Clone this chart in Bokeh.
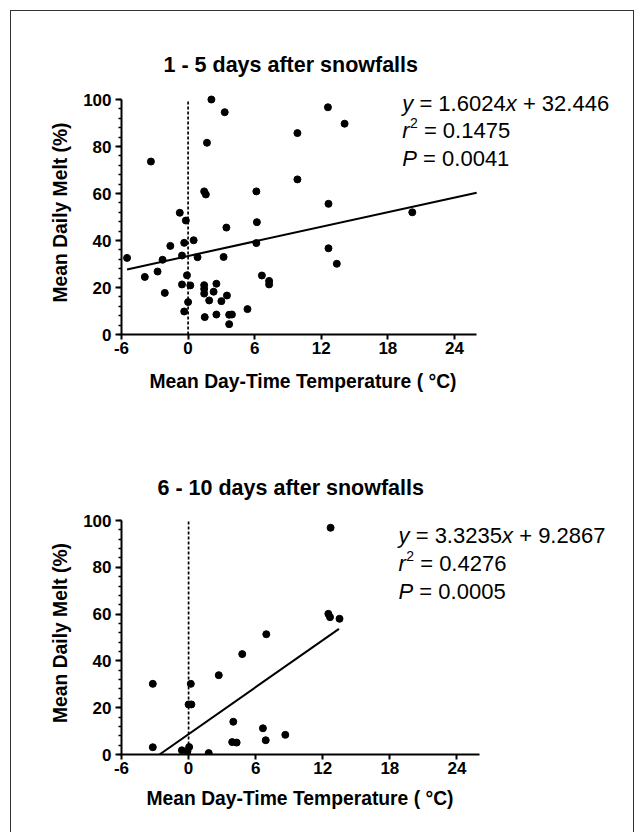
from bokeh.plotting import figure
from bokeh.models import Range1d, FixedTicker, SingleIntervalTicker, Label, ColumnDataSource, Title
from bokeh.layouts import column
from bokeh.embed import file_html
from bokeh.resources import INLINE

# ---------------- data ----------------
x_ticks = [-6, 0, 6, 12, 18, 24]
x_bounds = (-6, 26)
y_bounds = (0, 100)

titles = ["1 - 5 days after snowfalls", "6 - 10 days after snowfalls"]
x_label = "Mean Day-Time Temperature ( \u00b0C)"
y_label = "Mean Daily Melt (%)"

temp1 = [2.1, 3.3, 12.6, 14.1, 1.7, 9.85, -3.35, 9.85, 1.45, 1.6, 6.15, 12.65, -0.75, -0.2,
         6.2, 3.45, 6.15, -0.35, 0.5, -1.6, -5.5, -2.3, -0.55, 0.85, 3.2, 12.65, 13.4, -3.9,
         -2.75, -0.1, 6.65, 7.3, 7.3, -0.55, 0.2, 1.45, 1.45, 1.45, 2.55, 2.3, -2.1, 1.9, 3.0,
         3.5, 0.0, -0.35, 5.35, 1.5, 2.55, 3.7, 3.95, 3.7, 20.2]
melt1 = [100, 94.6, 96.7, 89.7, 81.6, 85.7, 73.6, 66.0, 60.9, 59.6, 60.9, 55.6, 51.8, 48.5,
         47.8, 45.5, 38.9, 39.0, 40.1, 37.7, 32.6, 31.8, 33.6, 32.9, 33.0, 36.7, 30.1, 24.5,
         26.8, 25.2, 25.1, 22.8, 21.3, 21.3, 20.9, 21.0, 19.4, 17.4, 21.6, 18.2, 17.7, 14.5, 14.2,
         16.6, 13.8, 9.8, 10.8, 7.4, 8.5, 8.4, 8.5, 4.4, 52.0]

temp2 = [12.7, 12.5, 12.65, 13.5, 6.95, 4.8, 2.7, -3.2, 0.2, 0.0, 0.25, 4.0, 6.65, 8.65,
         6.9, 3.9, 4.3, -3.2, -0.6, -0.1, 0.05, 1.8]
melt2 = [96.9, 60.1, 58.7, 58.0, 51.4, 42.9, 33.9, 30.2, 30.2, 21.4, 21.4, 14.0, 11.2, 8.4,
         6.1, 5.3, 5.1, 3.1, 1.8, 1.4, 3.2, 0.6]

# regression lines as drawn
fit1_x = [-5.5, 26.0]
fit1_y = [27.7, 60.3]
fit2_x = [-2.6, 13.45]
fit2_y = [0.0, 53.7]

eq_slope = ["1.6024", "3.3235"]
eq_icpt = ["32.446", "9.2867"]
r2_vals = ["0.1475", "0.4276"]
p_vals = ["0.0041", "0.0005"]

FONT = "Liberation Sans"
SP = "\u00a0"


def make_panel(title, xs, ys, fx, fy, slope, icpt, r2, pv, geom):
    (w, h, bl, br, bt, bb, xr, yr, txt_x, txt_y, t_standoff, t_offset, xl_offset, xl_standoff) = geom
    p = figure(width=w, height=h, output_backend="svg", toolbar_location=None,
               x_range=Range1d(*xr), y_range=Range1d(*yr),
               min_border_left=bl, min_border_right=br, min_border_top=bt, min_border_bottom=bb)
    p.outline_line_color = None
    p.xgrid.visible = False
    p.ygrid.visible = False
    p.background_fill_color = "white"
    p.border_fill_color = "white"

    p.title.text = title
    p.title.text_font = FONT
    p.title.text_font_size = "21.5px"
    p.title.text_font_style = "bold"
    p.title.text_color = "black"
    p.title.align = "left"
    p.title.offset = t_offset
    p.title.standoff = t_standoff

    xa = p.xaxis[0]
    ya = p.yaxis[0]
    xa.ticker = FixedTicker(ticks=x_ticks, minor_ticks=[])
    ya.ticker = SingleIntervalTicker(interval=20, num_minor_ticks=5)
    xa.major_label_overrides = {t: str(t) for t in x_ticks}
    xa.bounds = x_bounds
    ya.bounds = y_bounds
    for ax in (xa, ya):
        ax.axis_line_width = 2
        ax.axis_line_color = "black"
        ax.major_tick_line_width = 2
        ax.minor_tick_line_width = 1.5
        ax.major_tick_line_color = "black"
        ax.minor_tick_line_color = "black"
        ax.major_tick_in = 0
        ax.minor_tick_in = 0
        ax.major_label_text_font = FONT
        ax.major_label_text_font_style = "bold"
        ax.major_label_text_font_size = "17px"
        ax.major_label_text_color = "black"
        ax.axis_label_text_font = FONT
        ax.axis_label_text_font_style = "bold"
        ax.axis_label_text_font_size = "19.3px"
        ax.axis_label_text_color = "black"
    xa.major_tick_out = 5
    xa.minor_tick_out = 0
    xa.major_label_standoff = 2
    ya.major_tick_out = 6
    ya.minor_tick_out = 3
    ya.major_label_standoff = 4
    ya.axis_label = y_label
    ya.axis_label_standoff = 9

    # x-axis label placed under the axis, aligned with the axis span
    p.add_layout(Title(text=x_label, align="left", offset=xl_offset, standoff=xl_standoff,
                       text_font=FONT, text_font_size="19.3px", text_font_style="bold",
                       text_color="black"), "below")

    # zero reference line
    p.line(x=[x_ticks[1], x_ticks[1]], y=list(y_bounds), line_color="black",
           line_width=1.7, line_dash="3 2")
    p.line(x=fx, y=fy, line_color="black", line_width=2)
    src = ColumnDataSource(dict(x=xs, y=ys))
    p.scatter("x", "y", source=src, size=7, color="black")

    fs = "22px"
    lines = [
        [("y", "italic", 0), (SP + "=" + SP + slope, "normal", 11), ("x", "italic", 103.5),
         (SP + "+" + SP + icpt, "normal", 114.5)],
        [("r", "italic", 0), (SP + "=" + SP + r2, "normal", 15.5)],
        [("P", "italic", 0), (SP + "=" + SP + pv, "normal", 14.7)],
    ]
    for ty, parts in zip(txt_y, lines):
        for txt, style, off in parts:
            p.add_layout(Label(x=txt_x, y=ty, x_offset=off, text=txt, text_font=FONT,
                               text_font_size=fs, text_font_style=style,
                               text_color="black", text_baseline="alphabetic"))
    # superscript 2
    p.add_layout(Label(x=txt_x, y=txt_y[1], x_offset=7.6, y_offset=8, text="2",
                       text_font=FONT, text_font_size="14px", text_color="black",
                       text_baseline="alphabetic"))
    return p


geom1 = (622, 411, 106, 13, 79, 88, (-6.0, 38.96), (0.0, 103.83),
         19.30, [98.5, 86.6, 74.9], 28, 42, 28, 24)
geom2 = (622, 410, 110, 13, 89, 78, (-6.0, 38.63), (0.0, 103.85),
         18.78, [93.6, 81.6, 69.8], 23, 36, 25, 19)

p1 = make_panel(titles[0], temp1, melt1, fit1_x, fit1_y, eq_slope[0], eq_icpt[0],
                r2_vals[0], p_vals[0], geom1)
p2 = make_panel(titles[1], temp2, melt2, fit2_x, fit2_y, eq_slope[1], eq_icpt[1],
                r2_vals[1], p_vals[1], geom2)

layout = column(p1, p2, styles={"border-top": "1px solid #333", "border-left": "1px solid #333",
                                "border-right": "1px solid #333", "margin-left": "10px",
                                "margin-top": "10px"})

open("out.html", "w").write(file_html(layout, INLINE))
